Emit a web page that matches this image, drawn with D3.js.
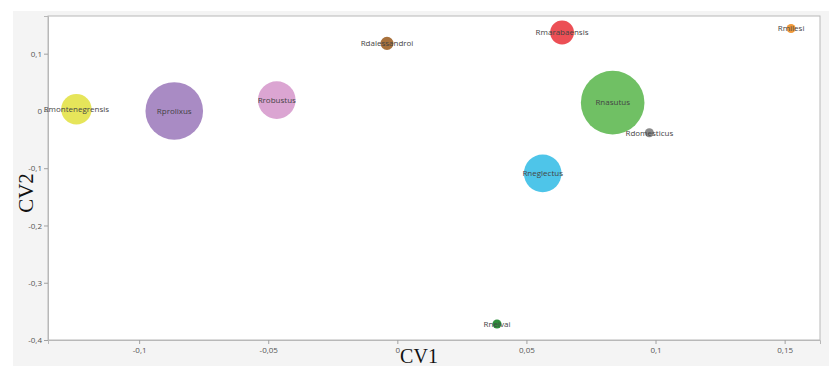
<!DOCTYPE html>
<html>
<head>
<meta charset="utf-8">
<script src="https://cdn.jsdelivr.net/npm/d3@7"></script>
<style>
	body { margin: 0; background: #fff; }
	svg { display: block; }
</style>
</head>
<body>
<svg></svg>
<script>
var width = 829;
var height = 368;

// species, CV scores and relative bubble size
var species = ['Rmontenegrensis', 'Rprolixus', 'Rrobustus', 'Rdalessandroi', 'Rmarabaensis', 'Rnasutus', 'Rdomesticus', 'Rmilesi', 'Rneglectus', 'Rneivai'];
var cv1 = [-0.1243, -0.0864, -0.0467, -0.004, 0.0638, 0.0834, 0.0976, 0.1525, 0.0563, 0.0386];
var cv2 = [0.003, 0.0, 0.019, 0.118, 0.137, 0.0145, -0.038, 0.144, -0.109, -0.372];
var sizes = [23, 82, 35, 4.2, 14, 100, 2, 2, 35, 2];
var colors = ['#e6e55a', '#a98bc4', '#dba5d2', '#a8713c', '#ec4f55', '#70c064', '#8a8a8a', '#f0993a', '#4ec5e9', '#2f8f3c'];

var xTicks = [-0.1, -0.05, 0, 0.05, 0.1, 0.15];
var yTicks = [0.1, 0, -0.1, -0.2, -0.3, -0.4];

var margin = { top: 16, right: 9, bottom: 28, left: 48 };
var w = width - margin.left - margin.right;
var h = height - margin.top - margin.bottom;

var svg = d3.select('svg')
	.attr('width', width)
	.attr('height', height);

// grey panel behind the plot
svg.append('rect')
	.attr('x', 13)
	.attr('y', 11)
	.attr('width', width - 13)
	.attr('height', 355)
	.attr('fill', '#f4f4f4');

var x = d3.scaleLinear()
	.domain([-0.1353, 0.1637])
	.range([0, w]);

var y = d3.scaleLinear()
	.domain([-0.4, 0.1658])
	.range([h, 0]);

var r = d3.scaleSqrt()
	.domain([0, 100])
	.range([0, 31.8]);

var fmt = function(d) { return String(d).replace('.', ','); };

var g = svg.append('g')
	.attr('transform', `translate(${margin.left},${margin.top})`);

g.append('rect')
	.attr('width', w)
	.attr('height', h)
	.attr('fill', '#fff')
	.attr('stroke', '#b8b8b8')
	.attr('stroke-width', 1);

var xAxis = d3.axisBottom(x)
	.tickValues(xTicks)
	.tickFormat(fmt)
	.tickSize(4)
	.tickPadding(3);

var yAxis = d3.axisLeft(y)
	.tickValues(yTicks)
	.tickFormat(fmt)
	.tickSize(4)
	.tickPadding(2);

g.append('g')
	.attr('transform', `translate(0,${h})`)
	.call(xAxis);

g.append('g')
	.call(yAxis);

g.selectAll('.domain').attr('stroke', '#b8b8b8');
g.selectAll('.tick line').attr('stroke', '#a0a0a0');
g.selectAll('.tick text')
	.attr('fill', '#555')
	.style('font-family', '"Open Sans", sans-serif')
	.style('font-size', '8px');

var pts = species.map(function(s, i) {
	return { name: s, x: cv1[i], y: cv2[i], size: sizes[i], color: colors[i] };
});

g.selectAll('circle.pt')
	.data(pts)
	.enter().append('circle')
	.attr('class', 'pt')
	.attr('cx', function(d) { return x(d.x); })
	.attr('cy', function(d) { return y(d.y); })
	.attr('r', function(d) { return r(d.size); })
	.attr('fill', function(d) { return d.color; });

g.selectAll('text.lbl')
	.data(pts)
	.enter().append('text')
	.attr('class', 'lbl')
	.attr('x', function(d) { return x(d.x); })
	.attr('y', function(d) { return y(d.y); })
	.attr('dy', '0.35em')
	.attr('text-anchor', 'middle')
	.attr('fill', '#444')
	.style('font-family', '"Open Sans", sans-serif')
	.style('font-size', '8px')
	.text(function(d) { return d.name; });

// axis titles
svg.append('text')
	.attr('x', 419)
	.attr('y', 363)
	.attr('text-anchor', 'middle')
	.attr('fill', '#111')
	.style('font-family', '"Liberation Serif", serif')
	.style('font-size', '20px')
	.text('CV1');

svg.append('text')
	.attr('transform', 'translate(33,193) rotate(-90)')
	.attr('text-anchor', 'middle')
	.attr('fill', '#111')
	.style('font-family', '"Liberation Serif", serif')
	.style('font-size', '21px')
	.text('CV2');
</script>
</body>
</html>
